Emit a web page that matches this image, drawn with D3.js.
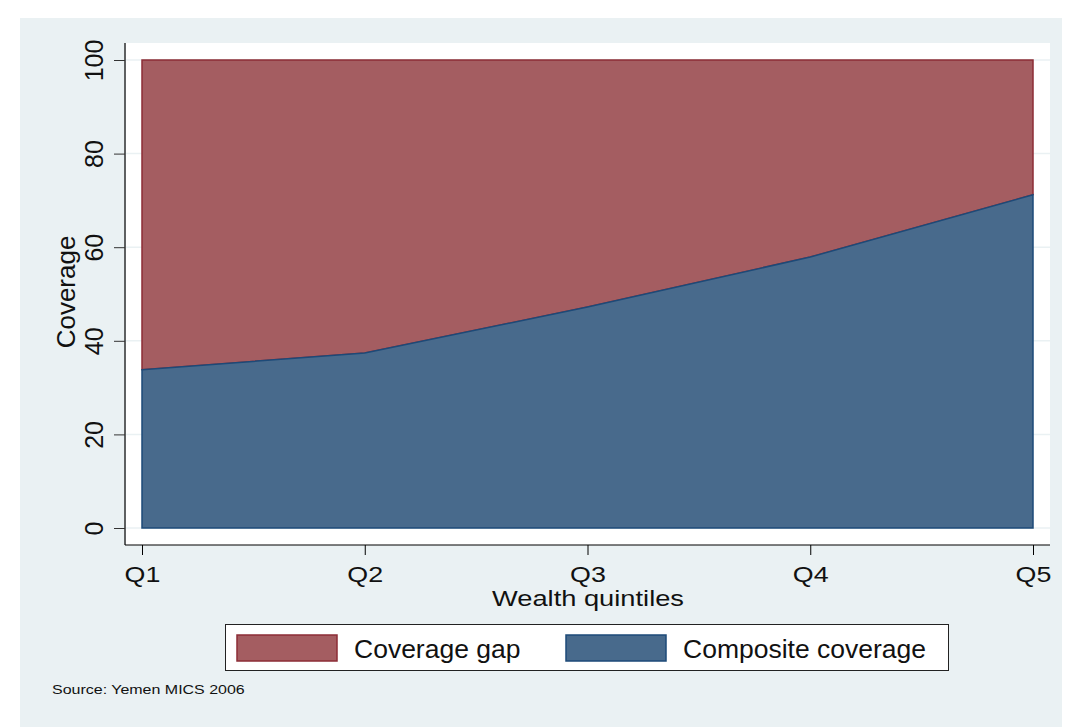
<!DOCTYPE html>
<html>
<head>
<meta charset="utf-8">
<script src="https://cdn.jsdelivr.net/npm/d3@7"></script>
<style>
  body { margin: 0; background: #fff; }
  text { font-family: "Liberation Sans", Arial, sans-serif; fill: #111; }
</style>
</head>
<body>
<script>
var quintiles = ["Q1", "Q2", "Q3", "Q4", "Q5"];
var composite = [33.8, 37.4, 47.2, 57.9, 71.2];
var total = [100, 100, 100, 100, 100];
var yTicks = [0, 20, 40, 60, 80, 100];
var seriesNames = ["Coverage gap", "Composite coverage"];

var w = 1067,
    h = 727;

var svg = d3.select("body").append("svg")
    .attr("width", w)
    .attr("height", h);

// outer graph region
svg.append("rect")
    .attr("x", 20).attr("y", 18)
    .attr("width", 1042).attr("height", 709)
    .attr("fill", "#eaf1f3");

// plot region
svg.append("rect")
    .attr("x", 126).attr("y", 43)
    .attr("width", 924).attr("height", 502)
    .attr("fill", "#fff");

var x = d3.scalePoint()
    .domain(quintiles)
    .range([142, 1033]);

var y = d3.scaleLinear()
    .domain([0, 100])
    .range([528, 60]);

// grid
svg.selectAll("line.grid")
    .data(yTicks)
    .enter().append("line")
    .attr("class", "grid")
    .attr("x1", 126).attr("x2", 1050)
    .attr("y1", function(d) { return y(d); })
    .attr("y2", function(d) { return y(d); })
    .attr("stroke", "#eaf1f3")
    .attr("stroke-width", 1.5);

var pts = quintiles.map(function(q, i) {
    return { q: q, top: total[i], mid: composite[i] };
});

var gapArea = d3.area()
    .x(function(d) { return x(d.q); })
    .y0(function(d) { return y(d.mid); })
    .y1(function(d) { return y(d.top); });

var covArea = d3.area()
    .x(function(d) { return x(d.q); })
    .y0(y(0))
    .y1(function(d) { return y(d.mid); });

svg.append("path")
    .datum(pts)
    .attr("d", gapArea)
    .attr("fill", "#a45d61")
    .attr("stroke", "#8c2d36")
    .attr("stroke-width", 1.5);

svg.append("path")
    .datum(pts)
    .attr("d", covArea)
    .attr("fill", "#486a8c")
    .attr("stroke", "#1d4a78")
    .attr("stroke-width", 1.5);

// axes
var yAxis = d3.axisLeft(y)
    .tickValues(yTicks)
    .tickSize(11);

var gy = svg.append("g")
    .attr("transform", "translate(125,0)")
    .call(yAxis);
gy.select(".domain").attr("d", "M0,43V545").attr("stroke", "#000");
gy.selectAll(".tick line").attr("stroke", "#333");
gy.selectAll(".tick text")
    .attr("x", 0).attr("y", 0)
    .attr("transform", "translate(-31,0) rotate(-90)")
    .attr("text-anchor", "middle")
    .attr("dy", "0.35em")
    .style("font-size", "25px");

var xAxis = d3.axisBottom(x)
    .tickSize(10);

var gx = svg.append("g")
    .attr("transform", "translate(0,545)")
    .call(xAxis);
gx.select(".domain").attr("d", "M125,0H1050").attr("stroke", "#000");
gx.selectAll(".tick line").attr("stroke", "#000");
gx.selectAll(".tick text")
    .attr("y", 0).attr("dy", null)
    .attr("transform", "translate(0,37) scale(1.22,1)")
    .style("font-size", "22px");

svg.selectAll(".domain").attr("stroke-width", 1.2);

// axis titles
svg.append("text")
    .attr("transform", "translate(75,292) rotate(-90)")
    .attr("text-anchor", "middle")
    .style("font-size", "26px")
    .text("Coverage");

svg.append("text")
    .attr("transform", "translate(588,606) scale(1.24,1)")
    .attr("text-anchor", "middle")
    .style("font-size", "22px")
    .text("Wealth quintiles");

// legend
var legend = svg.append("g");
legend.append("rect")
    .attr("x", 225.5).attr("y", 624.5)
    .attr("width", 723).attr("height", 46)
    .attr("fill", "#fff")
    .attr("stroke", "#222")
    .attr("stroke-width", 1);

var keyX = [237, 566];
var textX = [354, 683];
var keyFill = ["#a45d61", "#486a8c"];
var keyStroke = ["#8c2d36", "#1d4a78"];

legend.selectAll("rect.key")
    .data(seriesNames)
    .enter().append("rect")
    .attr("class", "key")
    .attr("x", function(d, i) { return keyX[i]; })
    .attr("y", 635)
    .attr("width", 100).attr("height", 26)
    .attr("fill", function(d, i) { return keyFill[i]; })
    .attr("stroke", function(d, i) { return keyStroke[i]; })
    .attr("stroke-width", 1.5);

legend.selectAll("text")
    .data(seriesNames)
    .enter().append("text")
    .attr("x", function(d, i) { return textX[i]; })
    .attr("y", 658)
    .style("font-size", "26.5px")
    .text(function(d) { return d; });

svg.append("text")
    .attr("transform", "translate(52,694) scale(1.23,1)")
    .style("font-size", "13px")
    .text("Source: Yemen MICS 2006");
</script>
</body>
</html>
